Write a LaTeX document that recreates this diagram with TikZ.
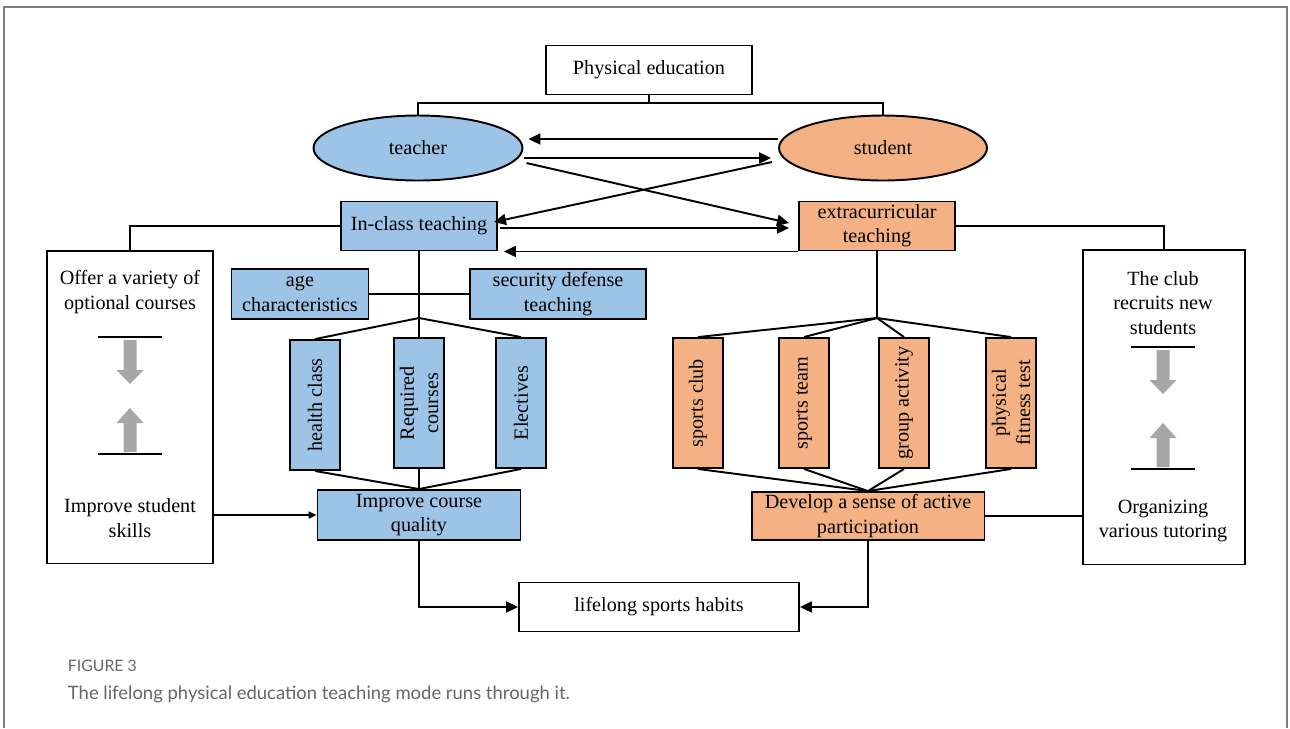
\documentclass[tikz,border=0pt]{standalone}
\usepackage{fontspec}
\setmainfont{Liberation Serif}
\newfontfamily\capfont{Lato}
\usetikzlibrary{arrows.meta, positioning, shapes.geometric}

\definecolor{blueblock}{HTML}{9DC3E6}
\definecolor{orangeblock}{HTML}{F4B183}
\definecolor{grayarrow}{HTML}{A6A6A6}
\definecolor{framegray}{HTML}{7F7F7F}
\definecolor{captiongray}{HTML}{666666}

\begin{document}
\begin{tikzpicture}[x=0.02cm, y=-0.02cm, line width=1.1pt,
  every node/.style={font=\fontsize{11.5}{13.8}\selectfont, align=center, inner sep=1pt},
  box/.style={draw, rectangle, line width=1.1pt},
  bluebox/.style={box, fill=blueblock},
  orangebox/.style={box, fill=orangeblock},
  vbox/.style={rotate=90, minimum width=2.6cm, minimum height=1cm},
  arr/.style={-{Triangle[length=0.24cm, width=0.22cm]}},
  smallarr/.style={-{Triangle[length=0.16cm, width=0.14cm]}}]
\useasboundingbox (0,0) rectangle (1290,728);
% Frame
\draw[framegray, line width=1pt] (4,728) -- (4,7) -- (1287,7) -- (1287,728);
% Top
\node[box, minimum width=4.12cm, minimum height=0.98cm] (phys) at (649,70) {Physical education};
\node[ellipse, draw, fill=blueblock, minimum width=4.18cm, minimum height=1.3cm, inner sep=0] (teacher) at (418,148) {teacher};
\node[ellipse, draw, fill=orangeblock, minimum width=4.16cm, minimum height=1.3cm, inner sep=0] (student) at (883,148) {student};
\node[bluebox, minimum width=3.12cm, minimum height=0.98cm] (inclass) at (419,226) {In-class teaching};
\node[orangebox, minimum width=3.12cm, minimum height=0.98cm] (extra) at (877,226) {extracurricular\\teaching};
% Side boxes
\node[box, minimum width=3.32cm, minimum height=6.26cm] (offerbox) at (130,407) {};
\node (offer) at (130,292) {Offer a variety of\\optional courses};
\node (skills) at (130,518) {Improve student\\skills};
\node[box, minimum width=3.24cm, minimum height=6.3cm] (clubbox) at (1164,407) {};
\node (recruit) at (1163,303) {The club\\recruits new\\students};
\node (tutor) at (1163,521) {Organizing\\various tutoring};
% Left branch
\node[bluebox, minimum width=2.74cm, minimum height=1cm] (age) at (300,294) {age\\characteristics};
\node[bluebox, minimum width=3.52cm, minimum height=1cm] (security) at (558,294) {security defense\\teaching};
\node[bluebox, vbox] (health) at (315,405) {health class};
\node[bluebox, vbox] (required) at (419,403) {Required\\courses};
\node[bluebox, vbox] (electives) at (521,403) {Electives};
\node[bluebox, minimum width=4.06cm, minimum height=1cm] (improve) at (419,515) {Improve course\\quality};
% Right branch
\node[orangebox, vbox] (sclub) at (698,403) {sports club};
\node[orangebox, vbox] (steam) at (804,403) {sports team};
\node[orangebox, vbox] (group) at (904,403) {group activity};
\node[orangebox, vbox] (fitness) at (1011,403) {physical\\fitness test};
\node[orangebox, minimum width=4.66cm, minimum height=0.96cm] (develop) at (868,516) {Develop a sense of active\\participation};
% Bottom
\node[box, minimum width=5.6cm, minimum height=0.98cm] (habits) at (659,607) {lifelong sports habits};
% Caption
\node[anchor=base west, inner sep=0, text=captiongray, font=\capfont\fontsize{9}{11}\selectfont] (figno) at (67,671) {FIGURE 3};
\node[anchor=base west, inner sep=0, text=captiongray, font=\capfont\fontsize{10.5}{12}\selectfont] (figcap) at (67,699) {The lifelong physical education teaching mode runs through it.};
% Junctions
\coordinate (pbar) at (649,103);
\coordinate (jl) at (419,318);
\coordinate (jr) at (877,318);
% Connectors
\draw (phys.south) -- (pbar);
\draw (teacher.north) |- (pbar) -| (student.north);
\draw[arr] ([yshift=0.18cm]student.west) -- ([xshift=0.1cm, yshift=0.18cm]teacher.east);
\draw[arr] ([xshift=0.02cm, yshift=-0.2cm]teacher.east) -- ([xshift=-0.14cm, yshift=-0.2cm]student.west);
\draw[arr] ([xshift=0.06cm, yshift=-0.3cm]teacher.east) -- ([xshift=-0.18cm, yshift=0.06cm]extra.west);
\draw[arr] ([xshift=-0.12cm, yshift=-0.28cm]student.west) -- ([xshift=-0.08cm, yshift=0.08cm]inclass.east);
\draw[arr] ([xshift=0.04cm, yshift=-0.04cm]inclass.east) -- ([xshift=-0.18cm, yshift=-0.04cm]extra.west);
\draw[arr] (extra.south west) -- ([xshift=0.12cm]inclass.south east);
\draw (inclass.west) -| (offerbox.north);
\draw (extra.east) -| (clubbox.north);
% In-class tree
\draw (inclass.south) -- (jl);
\draw (age.east) -- (security.west);
\draw (jl) -- (health.east);
\draw (jl) -- (required.east);
\draw (jl) -- (electives.east);
\draw (health.west) -- (improve.north);
\draw (required.west) -- (improve.north);
\draw (electives.west) -- (improve.north);
\draw[smallarr] (offerbox.east |- improve.west) -- (improve.west);
% Extracurricular tree
\draw (extra.south) -- (jr);
\foreach \k in {sclub, steam, group, fitness} {
  \draw (jr) -- (\k.east);
  \draw (\k.west) -- (develop.north);
}
\draw (develop.east) -- (develop.east -| clubbox.west);
% To lifelong habits
\draw[arr] (improve.south) |- (habits.west);
\draw[arr] (develop.south) |- (habits.east);
% Gray arrows in side boxes
\foreach \cx/\ya/\yb in {130/337/454, 1163/347/469} {
  \draw (\cx-32,\ya) -- (\cx+32,\ya);
  \draw (\cx-32,\yb) -- (\cx+32,\yb);
  \fill[grayarrow] (\cx-6.5,\ya+3) -- (\cx+6.5,\ya+3) -- (\cx+6.5,\ya+33) -- (\cx+13.5,\ya+33)
    -- (\cx,\ya+47) -- (\cx-13.5,\ya+33) -- (\cx-6.5,\ya+33) -- cycle;
  \fill[grayarrow] (\cx-6.5,\yb-2) -- (\cx+6.5,\yb-2) -- (\cx+6.5,\yb-31) -- (\cx+13.5,\yb-31)
    -- (\cx,\yb-46) -- (\cx-13.5,\yb-31) -- (\cx-6.5,\yb-31) -- cycle;
}
\end{tikzpicture}
\end{document}
